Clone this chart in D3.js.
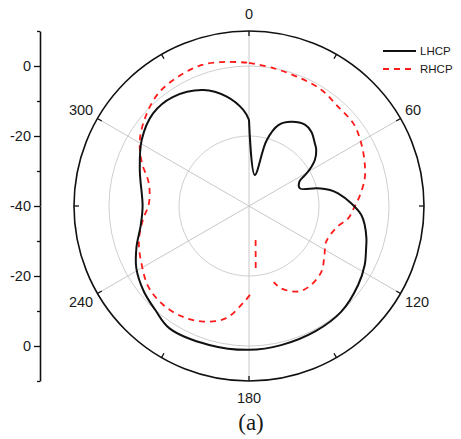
<!DOCTYPE html>
<html>
<head>
<meta charset="utf-8">
<script src="https://cdn.jsdelivr.net/npm/d3@7"></script>
<style>
  html, body { margin: 0; padding: 0; background: #fff; }
  svg { display: block; }
  text { font-family: "Liberation Sans", Arial, sans-serif; fill: #1a1a1a; }
</style>
</head>
<body>
<svg id="chart" width="461" height="439"></svg>
<script>
// Radiation pattern (dB) versus azimuth (deg), two polarisations
const lhcpAngles = [0, 10.5, 15, 20, 26.6, 34.5, 40, 46.3, 50.2, 55, 57.8, 60.5, 64.2, 70.9, 75.3, 78.8, 82,
  88.5, 94.6, 99.3, 105.4, 110, 117, 126, 139, 152, 167, 180, 196, 213, 222, 231, 241, 250, 260,
  270, 288, 301.6, 314, 325, 338.5, 348.5, 356.6, 360];
const lhcpValues = [-15.4, -31.0, -20.6, -15.4, -13.1, -11.8, -12.3, -14.0, -15.0, -17.0, -18.9, -21.1, -24.0, -24.6, -20.0, -16.4, -14.3,
  -10.8, -7.8, -6.5, -5.2, -4.4, -2.9, -1.5, 0.1, 0.5, 0.8, 1.1, 1.3, 1.7, 0.0, -1.3, -3.2, -5.8, -8.6,
  -9.6, -7.2, -4.0, -1.9, -2.0, -4.4, -8.1, -12.5, -15.4];

// null = missing sample (line is broken there)
const rhcpAngles = [0, 10, 21, 32, 42, 52, 61, 70, 77, 85, 91, 97, 104, 115, 123, 132, 142, 150, 158.6, 162,
  165, 169, 174, 177, 179.4, 182.4, 191.5, 201.6, 211, 221, 231, 240.5, 252, 262.5, 271.5, 283, 292,
  301, 311, 321, 331, 341.5, 351, 360];
const rhcpValues = [0.9, 0.0, -0.6, -0.9, -1.9, -2.0, -3.3, -4.8, -6.1, -8.3, -10.0, -11.4, -14.3, -15.7, -14.3, -12.1, -11.3, -11.8, -14.7, -17.1,
  null, -30.1, -21.6, null, -14.6, -12.9, -7.3, -4.5, -3.1, -2.6, -3.1, -4.9, -6.9, -9.4, -11.4, -10.6, -7.0,
  -3.6, -0.9, 1.3, 2.1, 2.5, 1.7, 0.9];

const angleTicks = [0, 60, 120, 180, 240, 300];
const radialGrid = [-20, 0];
const radialDomain = [-40, 10];
const axisLabelTicks = [-40, -20, 0];
const axisMinorTicks = [-30, -10, 10];
const seriesNames = ["LHCP", "RHCP"];
const caption = "(a)";

const svg = d3.select("#chart");
const cx = 249, cy = 206, R = 175;
const rad = d => d * Math.PI / 180;

const r = d3.scaleLinear().domain(radialDomain).range([0, R]);

const plot = svg.append("g").attr("transform", `translate(${cx},${cy})`);

// grid circles
plot.selectAll("circle.grid").data(radialGrid).join("circle")
  .attr("class", "grid").attr("r", d => r(d))
  .attr("fill", "none").attr("stroke", "#cfcfcf").attr("stroke-width", 1);

// spokes through the centre
plot.selectAll("line.spoke").data(angleTicks.filter(a => a < 180)).join("line")
  .attr("x1", a => -R * Math.sin(rad(a))).attr("y1", a => R * Math.cos(rad(a)))
  .attr("x2", a => R * Math.sin(rad(a))).attr("y2", a => -R * Math.cos(rad(a)))
  .attr("stroke", "#c8c8c8").attr("stroke-width", 1);

// outer boundary
plot.append("circle").attr("r", R).attr("fill", "none")
  .attr("stroke", "#111").attr("stroke-width", 1.6);

// inward ticks every 30 deg
plot.selectAll("line.atick").data(d3.range(0, 360, 30)).join("line")
  .attr("x1", a => R * Math.sin(rad(a))).attr("y1", a => -R * Math.cos(rad(a)))
  .attr("x2", a => (R - 5) * Math.sin(rad(a))).attr("y2", a => -(R - 5) * Math.cos(rad(a)))
  .attr("stroke", "#111").attr("stroke-width", 1.3);

// angle labels
plot.selectAll("text.alabel").data(angleTicks).join("text")
  .attr("x", a => 180 * Math.sin(rad(a)))
  .attr("y", a => -192 * Math.cos(rad(a)))
  .attr("text-anchor", a => Math.sin(rad(a)) > 0.1 ? "start" : (Math.sin(rad(a)) < -0.1 ? "end" : "middle"))
  .attr("dominant-baseline", "central")
  .style("font-size", "14.5px")
  .text(a => a);

// series
const rhcp = rhcpAngles.map((a, i) => ({ a, v: rhcpValues[i] }));
const lhcp = lhcpAngles.map((a, i) => ({ a, v: lhcpValues[i] }));

const radial = d3.lineRadial()
  .defined(d => d.v !== null)
  .angle(d => rad(d.a))
  .radius(d => r(d.v))
  .curve(d3.curveCatmullRom.alpha(0.5));

plot.append("path").datum(rhcp).attr("d", radial)
  .attr("fill", "none").attr("stroke", "#ff1a1a").attr("stroke-width", 1.8)
  .attr("stroke-dasharray", "6,5");

plot.append("path").datum(lhcp).attr("d", radial)
  .attr("fill", "none").attr("stroke", "#111").attr("stroke-width", 2)
  .attr("stroke-linejoin", "round");

// mirrored radial axis on the left
const axisX = 40;
const yTop = d3.scaleLinear().domain(radialDomain).range([cy, cy - R]);
const yBot = d3.scaleLinear().domain(radialDomain).range([cy, cy + R]);

function drawAxis(scale, labelTicks) {
  const gMajor = svg.append("g").attr("transform", `translate(${axisX},0)`)
    .call(d3.axisLeft(scale).tickValues(labelTicks).tickSize(6).tickSizeOuter(0)
      .tickPadding(3).tickFormat(d => String(d)));
  gMajor.select(".domain").attr("stroke", "#111").attr("stroke-width", 1.6);
  gMajor.selectAll(".tick line").attr("stroke", "#111").attr("stroke-width", 1.3);
  gMajor.selectAll(".tick text").style("font-size", "14.5px").attr("fill", "#1a1a1a")
    .style("font-family", "'Liberation Sans', Arial, sans-serif");
  const gMinor = svg.append("g").attr("transform", `translate(${axisX},0)`)
    .call(d3.axisLeft(scale).tickValues(axisMinorTicks).tickSize(3).tickSizeOuter(0).tickFormat(""));
  gMinor.select(".domain").remove();
  gMinor.selectAll(".tick line").attr("stroke", "#111").attr("stroke-width", 1.3);
}
drawAxis(yTop, axisLabelTicks);
drawAxis(yBot, axisLabelTicks.filter(v => v !== -40));

// legend
const legend = svg.append("g").attr("transform", "translate(383,51)");
const styles = [
  { stroke: "#111", dash: null, w: 2 },
  { stroke: "#ff1a1a", dash: "6,5", w: 1.8 }
];
seriesNames.forEach((name, i) => {
  const g = legend.append("g").attr("transform", `translate(0,${i * 18})`);
  g.append("line").attr("x1", 0).attr("x2", 33).attr("y1", 0).attr("y2", 0)
    .attr("stroke", styles[i].stroke).attr("stroke-width", styles[i].w)
    .attr("stroke-dasharray", styles[i].dash);
  g.append("text").attr("x", 37).attr("y", 0).attr("dominant-baseline", "central")
    .style("font-size", "11.5px").text(name);
});

// caption
svg.append("text").attr("x", 251).attr("y", 430).attr("text-anchor", "middle")
  .style("font-family", "'Liberation Serif', 'Times New Roman', serif")
  .style("font-size", "23px").attr("fill", "#000").text(caption);
</script>
</body>
</html>
